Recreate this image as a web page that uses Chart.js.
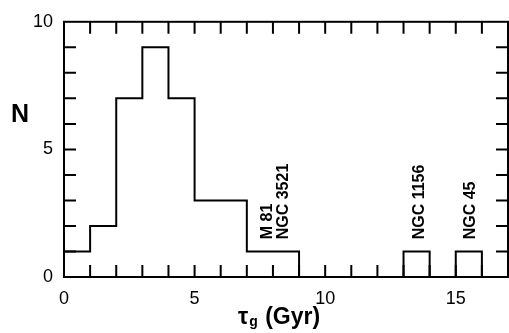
<!DOCTYPE html>
<html>
<head>
<meta charset="utf-8">
<script src="https://cdn.jsdelivr.net/npm/chart.js@4"></script>
<style>
  html, body { margin: 0; padding: 0; background: #fff; }
  #wrap { width: 509px; height: 333px; }
</style>
</head>
<body>
<div id="wrap"><canvas id="c" width="509" height="333"></canvas></div>
<script>
// ---- data ----
const binEdges = [0, 1, 2, 3, 4, 5, 6, 7, 8, 9, 10, 11, 12, 13, 14, 15, 16, 17];
const counts   = [1, 2, 7, 9, 7, 3, 3, 1, 1, 0, 0, 0, 0, 1, 0, 1, 0];
const xTickValues = [0, 5, 10, 15];
const yTickValues = [0, 5, 10];
const galaxyLabels = ['M 81', 'NGC 3521', 'NGC 1156', 'NGC 45'];
const galaxyX      = [7.8, 8.4, 13.6, 15.55];
const galaxyBaseY  = 1.48;
const xTitleMain = 'τ', xTitleSub = 'g', xTitleRest = ' (Gyr)';
const yTitle = 'N';

const points = binEdges.map((e, i) => ({ x: e, y: counts[Math.min(i, counts.length - 1)] }));

const FONT = '"Liberation Sans", Arial, sans-serif';

const framePlugin = {
  id: 'frame',
  afterDraw(chart) {
    const ctx = chart.ctx, a = chart.chartArea;
    const xs = chart.scales.x, ys = chart.scales.y;
    ctx.save();
    ctx.strokeStyle = '#000';
    ctx.lineWidth = 2;
    ctx.strokeRect(a.left, a.top, a.right - a.left, a.bottom - a.top);
    const tl = 12;
    ctx.beginPath();
    for (let v = 1; v < 17; v++) {
      const px = xs.getPixelForValue(v);
      ctx.moveTo(px, a.bottom); ctx.lineTo(px, a.bottom - tl);
      ctx.moveTo(px, a.top); ctx.lineTo(px, a.top + tl);
    }
    for (let v = 1; v < 10; v++) {
      const py = ys.getPixelForValue(v);
      ctx.moveTo(a.left, py); ctx.lineTo(a.left + tl, py);
      ctx.moveTo(a.right, py); ctx.lineTo(a.right - tl, py);
    }
    ctx.stroke();

    // rotated galaxy labels
    ctx.fillStyle = '#000';
    ctx.font = 'bold 17px ' + FONT;
    ctx.textAlign = 'left';
    ctx.textBaseline = 'middle';
    galaxyLabels.forEach((t, i) => {
      const px = xs.getPixelForValue(galaxyX[i]);
      const py = ys.getPixelForValue(galaxyBaseY);
      ctx.save();
      ctx.translate(px, py);
      ctx.rotate(-Math.PI / 2);
      ctx.scale(0.94, 1);
      ctx.fillText(t, 0, 0);
      ctx.restore();
    });

    // y title
    ctx.font = 'bold 25px ' + FONT;
    ctx.textAlign = 'center';
    ctx.textBaseline = 'middle';
    ctx.fillText(yTitle, 20, 115);

    // x title with subscript
    const mainFont = 'bold 23px ' + FONT;
    const subFont = 'bold 14px ' + FONT;
    ctx.textAlign = 'left';
    ctx.textBaseline = 'alphabetic';
    ctx.font = mainFont; const w1 = ctx.measureText(xTitleMain).width;
    ctx.font = subFont; const w2 = ctx.measureText(xTitleSub).width;
    ctx.font = mainFont; const w3 = ctx.measureText(xTitleRest).width;
    const cx = 279;
    let x0 = cx - (w1 + w2 + 2 + w3) / 2;
    const base = 324;
    ctx.font = mainFont; ctx.fillText(xTitleMain, x0, base);
    ctx.font = subFont; ctx.fillText(xTitleSub, x0 + w1 + 1, base + 2);
    ctx.font = mainFont; ctx.fillText(xTitleRest, x0 + w1 + w2 + 2, base);
    ctx.restore();
  }
};

const bgPlugin = {
  id: 'bg',
  beforeDraw(chart) {
    const ctx = chart.ctx;
    ctx.save(); ctx.fillStyle = '#fff';
    ctx.fillRect(0, 0, chart.width, chart.height);
    ctx.restore();
  }
};

new Chart(document.getElementById('c'), {
  type: 'line',
  data: {
    datasets: [{
      data: points,
      stepped: 'before',
      borderColor: '#000',
      borderWidth: 2,
      pointRadius: 0,
      fill: false,
      tension: 0
    }]
  },
  options: {
    responsive: false,
    animation: false,
    layout: { padding: { top: 20, right: 1, left: 0, bottom: 0 } },
    plugins: { legend: { display: false }, tooltip: { enabled: false }, title: { display: false } },
    scales: {
      x: {
        type: 'linear', min: 0, max: 17,
        afterFit(s) { s.height = 56; },
        afterBuildTicks(s) { s.ticks = xTickValues.map(v => ({ value: v })); },
        grid: { display: false, drawTicks: false },
        border: { display: false },
        ticks: { color: '#000', padding: 11, maxRotation: 0, autoSkip: false,
                 font: { family: FONT, size: 18 } }
      },
      y: {
        type: 'linear', min: 0, max: 10,
        afterFit(s) { s.width = 64; },
        afterBuildTicks(s) { s.ticks = yTickValues.map(v => ({ value: v })); },
        grid: { display: false, drawTicks: false },
        border: { display: false },
        ticks: { color: '#000', padding: 11, font: { family: FONT, size: 18 } }
      }
    }
  },
  plugins: [bgPlugin, framePlugin]
});
</script>
</body>
</html>
